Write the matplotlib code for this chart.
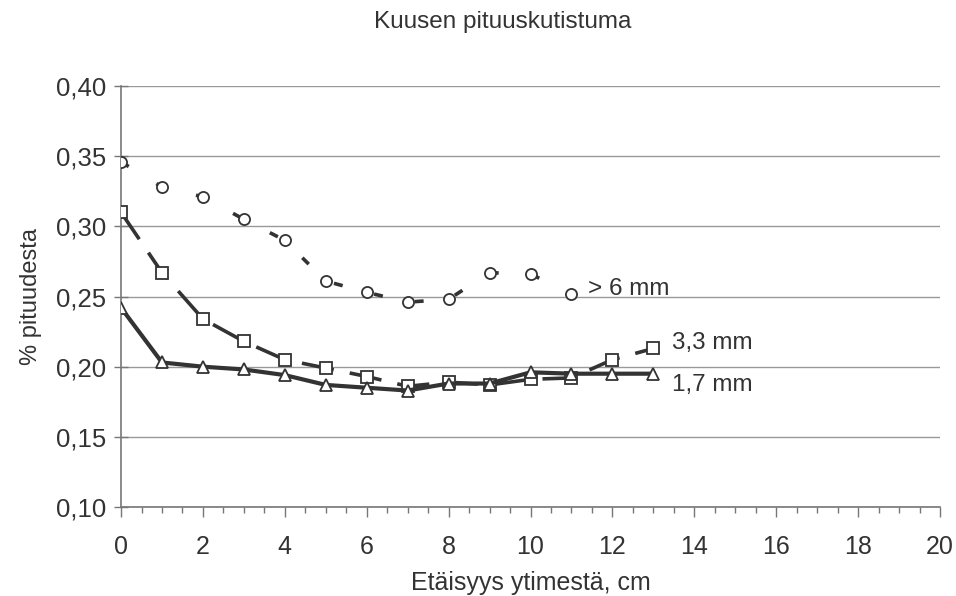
import numpy as np
import matplotlib
matplotlib.use("Agg")
import matplotlib.pyplot as plt
from matplotlib.ticker import MultipleLocator, FuncFormatter

plt.rcParams['font.family'] = ['Liberation Sans', 'DejaVu Sans']

# etäisyys ytimestä (cm)
x_circ = [0, 1, 2, 3, 4, 5, 6, 7, 8, 9, 10, 11]
x_sq = [0, 1, 2, 3, 4, 5, 6, 7, 8, 9, 10, 11, 12, 13]
x_tri = [0, 1, 2, 3, 4, 5, 6, 7, 8, 9, 10, 11, 12, 13]

# > 6 mm
y_circ = [0.346, 0.328, 0.321, 0.305, 0.290, 0.261, 0.253, 0.246, 0.248, 0.267, 0.266, 0.252]
# 3,3 mm
y_sq = [0.310, 0.267, 0.234, 0.218, 0.205, 0.199, 0.193, 0.186, 0.189, 0.187, 0.191, 0.192, 0.205, 0.213]
# 1,7 mm
y_tri = [0.242, 0.203, 0.200, 0.198, 0.194, 0.187, 0.185, 0.183, 0.188, 0.188, 0.196, 0.195, 0.195, 0.195]

labels = ['> 6 mm', '3,3 mm', '1,7 mm']
label_pos = [(11.4, 0.255), (13.45, 0.217), (13.45, 0.187)]

lc = '#333333'
tc = '#333333'

fig = plt.figure(figsize=(9.56, 5.96), dpi=100)
ax = fig.add_axes([0.1266, 0.1493, 0.8567, 0.7064])

ax.plot(x_circ, y_circ, color=lc, lw=2.6, dashes=(2.5, 9), marker='o', ms=8,
        mfc='white', mec=lc, mew=1.3, zorder=3)
ax.plot(x_sq, y_sq, color=lc, lw=2.6, dashes=(9, 4.5), marker='s', ms=8,
        mfc='white', mec=lc, mew=1.3, zorder=3)
ax.plot(x_tri, y_tri, color=lc, lw=3, marker='^', ms=9,
        mfc='white', mec=lc, mew=1.3, zorder=3)

for lab, (tx, ty) in zip(labels, label_pos):
    ax.text(tx, ty, lab, fontsize=17.5, color=tc, va='center', ha='left')

ax.set_xlim(0, 20)
ax.set_ylim(0.10, 0.40)
ax.xaxis.set_major_locator(MultipleLocator(2))
ax.xaxis.set_minor_locator(MultipleLocator(0.5))
ax.yaxis.set_major_locator(MultipleLocator(0.05))
ax.yaxis.set_major_formatter(FuncFormatter(lambda v, p: ('%.2f' % v).replace('.', ',')))

ax.grid(axis='y', color='#999999', lw=1)
ax.set_axisbelow(True)
for s in ['top', 'right']:
    ax.spines[s].set_visible(False)
for s in ['left', 'bottom']:
    ax.spines[s].set_color('#777777')
    ax.spines[s].set_linewidth(1.2)

ax.tick_params(axis='y', direction='inout', length=10, width=1, color='#777777',
               labelsize=18.5, labelcolor=tc, pad=6)
ax.tick_params(axis='x', which='major', direction='out', length=7, width=1,
               color='#777777', labelsize=18, labelcolor=tc, pad=13)
ax.tick_params(axis='x', which='minor', direction='out', length=4, width=1,
               color='#777777')

ax.set_xlabel('Etäisyys ytimestä, cm', fontsize=18, color=tc, labelpad=9)
ax.set_ylabel('% pituudesta', fontsize=17, color=tc, labelpad=10)
fig.text(0.526, 0.963, 'Kuusen pituuskutistuma', fontsize=17.5, color=tc,
         ha='center', va='center')

fig.savefig('out.png', dpi=100)
